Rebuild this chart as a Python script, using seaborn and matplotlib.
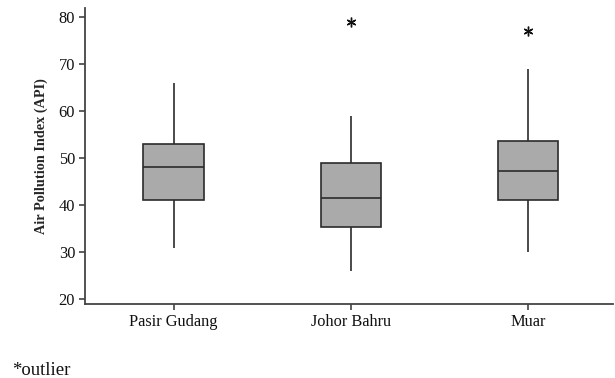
import pandas as pd
import seaborn as sns
import matplotlib
matplotlib.use("Agg")
import matplotlib.pyplot as plt

# values
cities = ["Pasir Gudang", "Johor Bahru", "Muar"]
lows = [31, 26, 30]
q1s = [41.1, 35.3, 41.1]
medians = [48.1, 41.5, 47.2]
q3s = [53.0, 49.1, 53.7]
highs = [66, 59, 69]
outliers = [[], [79], [77]]

# build a small sample per city that gives exactly these box stats
rows = []
for city, lo, a, m, b, hi, outs in zip(cities, lows, q1s, medians, q3s, highs, outliers):
    if outs:
        vals = [lo, a, a, m, m, b, b, hi] + outs
    else:
        vals = [lo, a, m, b, hi]
    for v in vals:
        rows.append({"city": city, "api": v})
df = pd.DataFrame(rows)

sns.set_style("ticks")
plt.rcParams["font.family"] = ["Liberation Serif", "DejaVu Serif"]

fig = plt.figure(figsize=(6.15, 3.78), dpi=100)
ax = fig.add_axes([0.138, 0.196, 0.859, 0.783])

sns.boxplot(data=df, x="city", y="api", order=cities, ax=ax,
            width=0.34, color="#aaaaaa", saturation=1,
            linecolor="#2b2b2b", linewidth=1.2, showcaps=False,
            flierprops={"marker": (6, 2, 0), "markersize": 7,
                        "markeredgecolor": "#111111", "markeredgewidth": 1.0})

ax.set_ylim(19.0, 82.0)
ax.set_xlim(-0.5, 2.48)
ax.set_yticks([20, 30, 40, 50, 60, 70, 80])
ax.set_xlabel("")
ax.set_ylabel("Air Pollution Index (API)", fontsize=10.3, fontweight="bold", labelpad=8)
ax.tick_params(axis="both", labelsize=11.8, length=4, width=1.1, color="#333333",
               labelcolor="#111111", pad=3)
sns.despine(ax=ax)
for s in ["left", "bottom"]:
    ax.spines[s].set_color("#444444")
    ax.spines[s].set_linewidth(1.3)

fig.text(0.02, 0.009, "*outlier", fontsize=13.5, color="#111111")

fig.savefig("out.png", dpi=100)
